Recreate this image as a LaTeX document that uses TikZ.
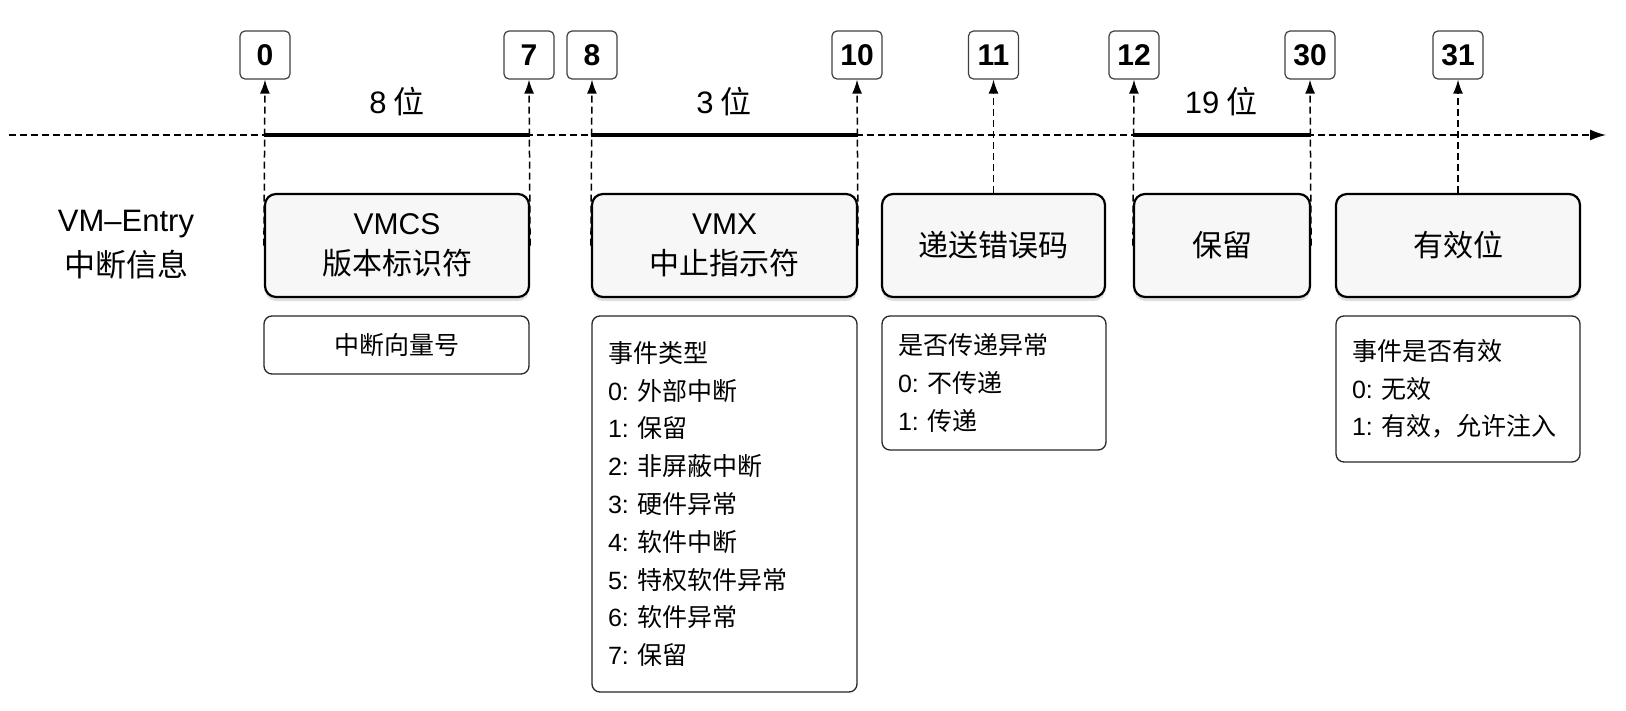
\documentclass[tikz,border=0pt]{standalone}
\usepackage{fontspec}
\setmainfont{Noto Sans CJK SC}
\newfontfamily\latin{Liberation Sans}
\newcommand{\numlbl}[1]{{\latin #1:}\hspace{9pt}}
\usetikzlibrary{arrows.meta,shadows}

\begin{document}
\begin{tikzpicture}[x=1pt,y=-1pt]
\tikzstyle{bitbox}=[draw=black!75, line width=1.2pt, rounded corners=5pt, fill=white, minimum width=50pt, minimum height=48pt, inner xsep=6pt, inner ysep=0pt, font=\latin\bfseries\fontsize{30}{30}\selectfont]
\tikzstyle{fieldbox}=[draw=black, line width=2.2pt, rounded corners=11pt, fill=black!3, drop shadow={shadow xshift=0pt, shadow yshift=-4pt, opacity=0.25}, minimum height=103pt, inner sep=0pt, align=center, font=\fontsize{30}{40}\selectfont]
\tikzstyle{notebox}=[draw=black!85, line width=1.3pt, rounded corners=8pt, inner xsep=16pt, inner ysep=0pt, align=left, font=\fontsize{25}{37.8}\selectfont]
\tikzstyle{bitarrow}=[line width=1.5pt, dash pattern=on 7pt off 4pt, -{Latex[length=14pt,width=10pt]}]
\useasboundingbox (0,0) rectangle (1626,710);

\node (title) at (126,245) [align=center, font=\fontsize{31}{45}\selectfont] {{\latin VM–Entry}\\中断信息};

\node (vmcs) [fieldbox, minimum width=264pt] at (397,245.5) {{\latin VMCS}\\版本标识符};
\node (vmx) [fieldbox, minimum width=265pt] at (724.5,245.5) {{\latin VMX}\\中止指示符};
\node (err) [fieldbox, minimum width=223pt] at (993.5,245.5) {递送错误码};
\node (rsv) [fieldbox, minimum width=176pt] at (1222,245.5) {保留};
\node (valid) [fieldbox, minimum width=244pt] at (1458,245.5) {有效位};

\node (b0) [bitbox] at (265,55) {0};
\node (b7) [bitbox] at (529,55) {7};
\node (b8) [bitbox] at (592,55) {8};
\node (b10) [bitbox] at (857,55) {10};
\node (b11) [bitbox] at (993.5,55) {11};
\node (b12) [bitbox] at (1134,55) {12};
\node (b30) [bitbox] at (1310,55) {30};
\node (b31) [bitbox] at (1458,55) {31};

% bit axis
\coordinate (axstart) at (9,135);
\coordinate (axend) at (1606,135);
\draw[line width=1.5pt, dash pattern=on 7pt off 4pt, -{Latex[length=16pt,width=11pt]}] (axstart) -- (axend);
\draw[line width=3.5pt] (vmcs.west |- axstart) -- (vmcs.east |- axstart);
\draw[line width=3.5pt] (vmx.west |- axstart) -- (vmx.east |- axstart);
\draw[line width=3.5pt] (rsv.west |- axstart) -- (rsv.east |- axstart);

\node (w8) at (397,102) [font=\fontsize{31}{31}\selectfont] {{\latin 8} 位};
\node (w3) at (724,102) [font=\fontsize{31}{31}\selectfont] {{\latin 3} 位};
\node (w19) at (1221,102) [font=\fontsize{31}{31}\selectfont] {{\latin 19} 位};

\draw[bitarrow] (vmcs.west) -- (b0.south);
\draw[bitarrow] (vmcs.east) -- (b7.south);
\draw[bitarrow] (vmx.west) -- (b8.south);
\draw[bitarrow] (vmx.east) -- (b10.south);
\draw[bitarrow] (err.north) -- (b11.south);
\draw[bitarrow] (rsv.west) -- (b12.south);
\draw[bitarrow] (rsv.east) -- (b30.south);
\draw[bitarrow] (valid.north) -- (b31.south);

% notes
\node (vecnote) [notebox, text width=233pt, minimum height=58pt, align=center] at (396.5,345) {中断向量号};
\node (typenote) [notebox, text width=233pt, minimum height=376pt] at (724.5,504) {事件类型\\\numlbl{0}外部中断\\\numlbl{1}保留\\\numlbl{2}非屏蔽中断\\\numlbl{3}硬件异常\\\numlbl{4}软件中断\\\numlbl{5}特权软件异常\\\numlbl{6}软件异常\\\numlbl{7}保留};
\node (delivnote) [notebox, text width=192pt, minimum height=134pt] at (994,383) {是否传递异常\\\numlbl{0}不传递\\\numlbl{1}传递};
\node (validnote) [notebox, text width=212pt, minimum height=146pt] at (1458,389) {事件是否有效\\\numlbl{0}无效\\\numlbl{1}有效，允许注入};
\end{tikzpicture}
\end{document}
